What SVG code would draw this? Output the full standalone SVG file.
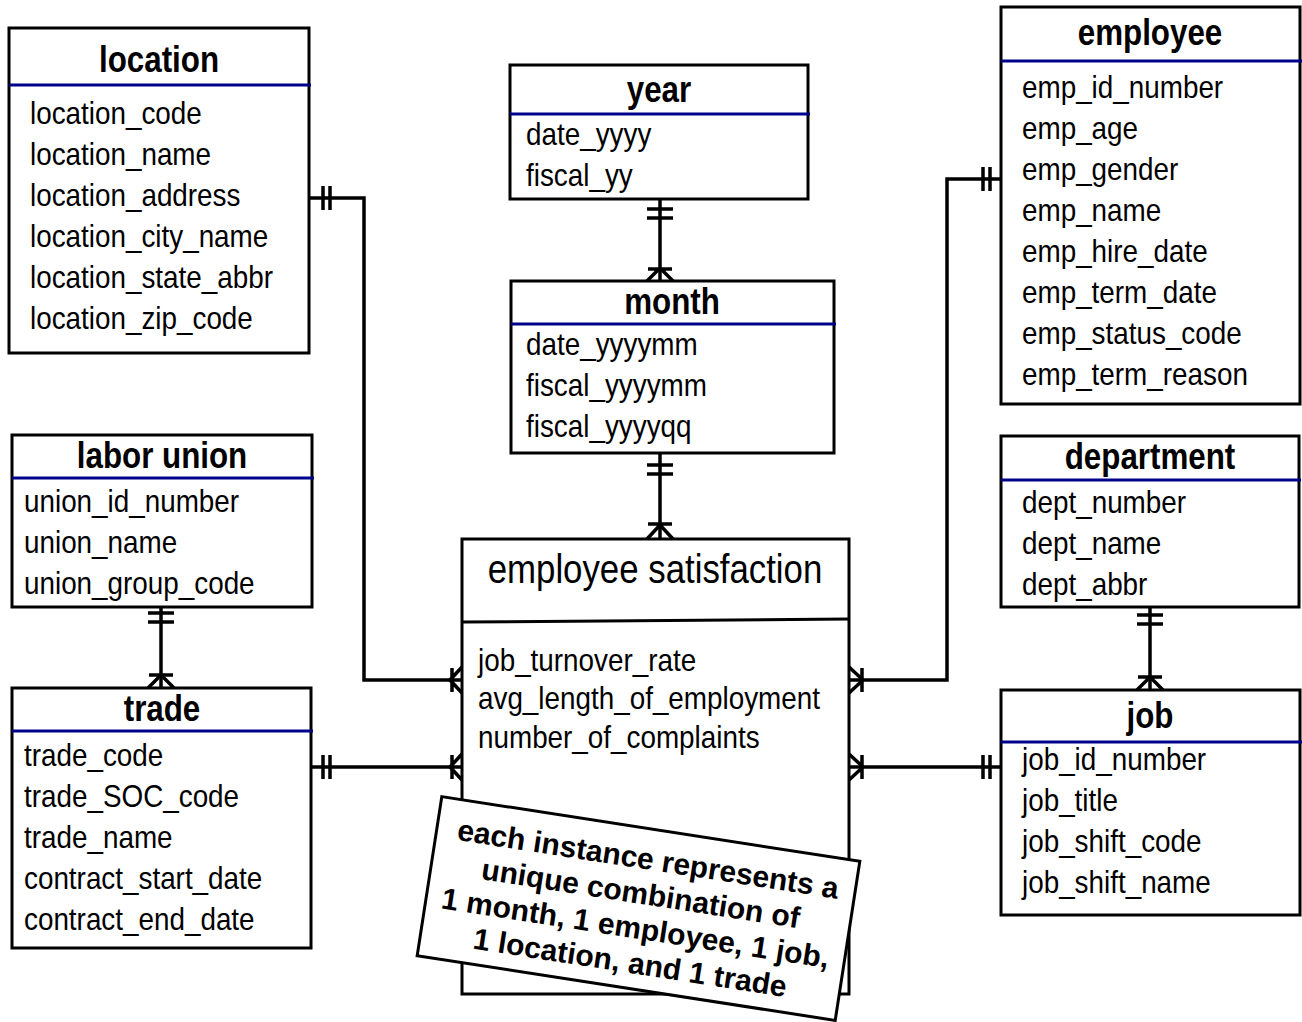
<svg xmlns="http://www.w3.org/2000/svg" width="1302" height="1022" viewBox="0 0 1302 1022">
  <style>
    .box { fill: #fff; stroke: #000; stroke-width: 3; }
    .sep { stroke: #00008b; stroke-width: 3; }
    .title { font-family: "Liberation Sans", Arial, sans-serif; font-size: 36px; font-weight: bold; text-anchor: middle; fill: #000; }
    .attr { font-family: "Liberation Sans", Arial, sans-serif; font-size: 32px; fill: #000; }
    .head { font-family: "Liberation Sans", Arial, sans-serif; font-size: 40px; text-anchor: middle; fill: #000; }
    .conn { fill: none; stroke: #000; stroke-width: 3.5; }
    .note { font-family: "Liberation Sans", Arial, sans-serif; font-size: 30px; font-weight: bold; text-anchor: middle; fill: #000; }
  </style>

  <!-- relationship lines with cardinality marks -->
  <g id="connectors">
    <!-- location -> employee satisfaction -->
    <path class="conn" d="M309,198 H364 V680 H462"/>
    <path class="conn" d="M323,186 V210 M330,186 V210"/>
    <path class="conn" d="M452,668 V692 M450,680 L462,667 M450,680 L462,693"/>
    <!-- year -> month -->
    <path class="conn" d="M660,199 V281"/>
    <path class="conn" d="M647,209 H673 M647,218 H673"/>
    <path class="conn" d="M648,269 H672 M660,268 L647,281 M660,268 L673,281"/>
    <!-- month -> employee satisfaction -->
    <path class="conn" d="M660,453 V539"/>
    <path class="conn" d="M647,465 H673 M647,474 H673"/>
    <path class="conn" d="M648,524 H672 M660,525 L647,539 M660,525 L673,539"/>
    <!-- employee -> employee satisfaction -->
    <path class="conn" d="M1001,179 H947 V680 H849"/>
    <path class="conn" d="M983,167 V191 M990,167 V191"/>
    <path class="conn" d="M862,668 V692 M863,680 L849,667 M863,680 L849,693"/>
    <!-- labor union -> trade -->
    <path class="conn" d="M161,607 V688"/>
    <path class="conn" d="M148,613 H174 M148,622 H174"/>
    <path class="conn" d="M149,675 H173 M161,675 L148,688 M161,675 L174,688"/>
    <!-- trade -> employee satisfaction -->
    <path class="conn" d="M311,767 H462"/>
    <path class="conn" d="M323,755 V779 M330,755 V779"/>
    <path class="conn" d="M452,755 V779 M450,767 L462,754 M450,767 L462,780"/>
    <!-- department -> job -->
    <path class="conn" d="M1150,607 V690"/>
    <path class="conn" d="M1137,615 H1163 M1137,624 H1163"/>
    <path class="conn" d="M1138,677 H1162 M1150,677 L1137,690 M1150,677 L1163,690"/>
    <!-- job -> employee satisfaction -->
    <path class="conn" d="M849,767 H1001"/>
    <path class="conn" d="M983,755 V779 M990,755 V779"/>
    <path class="conn" d="M862,755 V779 M863,767 L849,754 M863,767 L849,780"/>
  </g>

  <!-- entity boxes; text is narrowed horizontally to a condensed face -->
  <g id="location">
    <rect class="box" x="9" y="28" width="300" height="325"/>
    <line class="sep" x1="9" y1="85" x2="311" y2="85"/>
    <text class="title" transform="translate(159,72) scale(0.87,1)">location</text>
    <text class="attr" transform="translate(30,124) scale(0.87,1)">location_code</text>
    <text class="attr" transform="translate(30,165) scale(0.87,1)">location_name</text>
    <text class="attr" transform="translate(30,206) scale(0.87,1)">location_address</text>
    <text class="attr" transform="translate(30,247) scale(0.87,1)">location_city_name</text>
    <text class="attr" transform="translate(30,288) scale(0.87,1)">location_state_abbr</text>
    <text class="attr" transform="translate(30,329) scale(0.87,1)">location_zip_code</text>
  </g>

  <g id="year">
    <rect class="box" x="510" y="65" width="298" height="134"/>
    <line class="sep" x1="510" y1="114" x2="810" y2="114"/>
    <text class="title" transform="translate(659,102) scale(0.87,1)">year</text>
    <text class="attr" transform="translate(526,145) scale(0.87,1)">date_yyyy</text>
    <text class="attr" transform="translate(526,186) scale(0.87,1)">fiscal_yy</text>
  </g>

  <g id="month">
    <rect class="box" x="511" y="281" width="323" height="172"/>
    <line class="sep" x1="511" y1="324" x2="836" y2="324"/>
    <text class="title" transform="translate(672,314) scale(0.87,1)">month</text>
    <text class="attr" transform="translate(526,355) scale(0.87,1)">date_yyyymm</text>
    <text class="attr" transform="translate(526,396) scale(0.87,1)">fiscal_yyyymm</text>
    <text class="attr" transform="translate(526,437) scale(0.87,1)">fiscal_yyyyqq</text>
  </g>

  <g id="employee">
    <rect class="box" x="1001" y="7" width="299" height="397"/>
    <line class="sep" x1="1001" y1="61" x2="1302" y2="61"/>
    <text class="title" transform="translate(1150,45) scale(0.87,1)">employee</text>
    <text class="attr" transform="translate(1022,98) scale(0.87,1)">emp_id_number</text>
    <text class="attr" transform="translate(1022,139) scale(0.87,1)">emp_age</text>
    <text class="attr" transform="translate(1022,180) scale(0.87,1)">emp_gender</text>
    <text class="attr" transform="translate(1022,221) scale(0.87,1)">emp_name</text>
    <text class="attr" transform="translate(1022,262) scale(0.87,1)">emp_hire_date</text>
    <text class="attr" transform="translate(1022,303) scale(0.87,1)">emp_term_date</text>
    <text class="attr" transform="translate(1022,344) scale(0.87,1)">emp_status_code</text>
    <text class="attr" transform="translate(1022,385) scale(0.87,1)">emp_term_reason</text>
  </g>

  <g id="labor-union">
    <rect class="box" x="12" y="435" width="300" height="172"/>
    <line class="sep" x1="12" y1="478" x2="314" y2="478"/>
    <text class="title" transform="translate(162,468) scale(0.87,1)">labor union</text>
    <text class="attr" transform="translate(24,512) scale(0.87,1)">union_id_number</text>
    <text class="attr" transform="translate(24,553) scale(0.87,1)">union_name</text>
    <text class="attr" transform="translate(24,594) scale(0.87,1)">union_group_code</text>
  </g>

  <g id="trade">
    <rect class="box" x="12" y="688" width="299" height="260"/>
    <line class="sep" x1="12" y1="731" x2="313" y2="731"/>
    <text class="title" transform="translate(162,721) scale(0.87,1)">trade</text>
    <text class="attr" transform="translate(24,766) scale(0.87,1)">trade_code</text>
    <text class="attr" transform="translate(24,807) scale(0.87,1)">trade_SOC_code</text>
    <text class="attr" transform="translate(24,848) scale(0.87,1)">trade_name</text>
    <text class="attr" transform="translate(24,889) scale(0.87,1)">contract_start_date</text>
    <text class="attr" transform="translate(24,930) scale(0.87,1)">contract_end_date</text>
  </g>

  <g id="department">
    <rect class="box" x="1001" y="436" width="298" height="171"/>
    <line class="sep" x1="1001" y1="480" x2="1301" y2="480"/>
    <text class="title" transform="translate(1150,469) scale(0.87,1)">department</text>
    <text class="attr" transform="translate(1022,513) scale(0.87,1)">dept_number</text>
    <text class="attr" transform="translate(1022,554) scale(0.87,1)">dept_name</text>
    <text class="attr" transform="translate(1022,595) scale(0.87,1)">dept_abbr</text>
  </g>

  <g id="job">
    <rect class="box" x="1001" y="690" width="299" height="225"/>
    <line class="sep" x1="1001" y1="742" x2="1302" y2="742"/>
    <text class="title" transform="translate(1150,728) scale(0.87,1)">job</text>
    <text class="attr" transform="translate(1022,770) scale(0.87,1)">job_id_number</text>
    <text class="attr" transform="translate(1022,811) scale(0.87,1)">job_title</text>
    <text class="attr" transform="translate(1022,852) scale(0.87,1)">job_shift_code</text>
    <text class="attr" transform="translate(1022,893) scale(0.87,1)">job_shift_name</text>
  </g>

  <g id="employee-satisfaction">
    <rect class="box" x="462" y="539" width="387" height="455"/>
    <line x1="462" y1="622" x2="849" y2="619" stroke="#000" stroke-width="3"/>
    <text class="head" transform="translate(655,583) scale(0.87,1)">employee satisfaction</text>
    <text class="attr" transform="translate(478,671) scale(0.87,1)">job_turnover_rate</text>
    <text class="attr" transform="translate(478,709) scale(0.87,1)">avg_length_of_employment</text>
    <text class="attr" transform="translate(478,748) scale(0.87,1)">number_of_complaints</text>
  </g>

  <!-- tilted annotation card -->
  <g id="note" transform="translate(638.5,908.5) rotate(8.8)">
    <rect x="-211.5" y="-80.5" width="423" height="161" fill="#fff" stroke="#000" stroke-width="3"/>
    <text class="note" x="2" y="-40">each instance represents a</text>
    <text class="note" x="0" y="-5">unique combination of</text>
    <text class="note" x="0" y="30">1 month, 1 employee, 1 job,</text>
    <text class="note" x="0" y="65">1 location, and 1 trade</text>
  </g>
</svg>
